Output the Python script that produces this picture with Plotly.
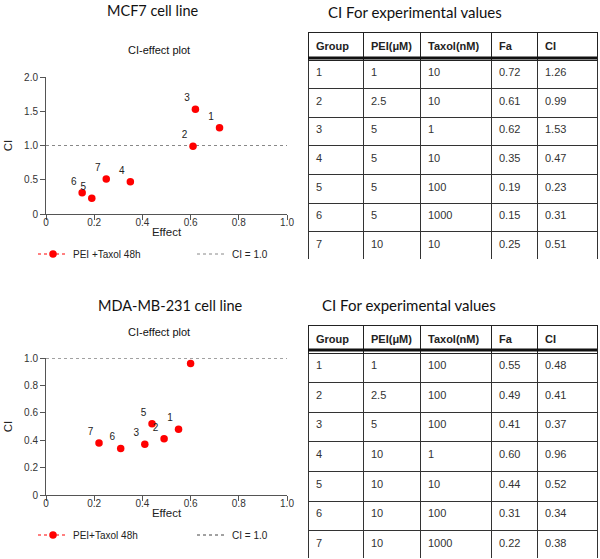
import plotly.graph_objects as go

W, H = 600, 559

groups = [1, 2, 3, 4, 5, 6, 7]
header = ["Group", "PEI(μM)", "Taxol(nM)", "Fa", "CI"]

mcf7_pei = ["1", "2.5", "5", "5", "5", "5", "10"]
mcf7_taxol = ["10", "10", "1", "10", "100", "1000", "10"]
mcf7_fa = [0.72, 0.61, 0.62, 0.35, 0.19, 0.15, 0.25]
mcf7_ci = [1.26, 0.99, 1.53, 0.47, 0.23, 0.31, 0.51]

mda_pei = ["1", "2.5", "5", "10", "10", "10", "10"]
mda_taxol = ["100", "100", "100", "1", "10", "100", "1000"]
mda_fa = [0.55, 0.49, 0.41, 0.60, 0.44, 0.31, 0.22]
mda_ci = [0.48, 0.41, 0.37, 0.96, 0.52, 0.34, 0.38]

x_ticks = [0, 0.2, 0.4, 0.6, 0.8, 1.0]
x_ticktext = ["0", "0.2", "0.4", "0.6", "0.8", "1.0"]
y1_ticks = [0, 0.5, 1.0, 1.5, 2.0]
y1_ticktext = ["0", "0.5", "1.0", "1.5", "2.0"]
y2_ticks = [0, 0.2, 0.4, 0.6, 0.8, 1.0]
y2_ticktext = ["0", "0.2", "0.4", "0.6", "0.8", "1.0"]
ci_ref = 1.0


def px(x):
    return x / W


def py(y):
    return min(1.0, max(0.0, 1 - y / H))


fig = go.Figure()

# ---------- scatter plots ----------
def add_plot(fa, ci, xa, ya, legend, leg_name, ci_color):
    fig.add_trace(go.Scatter(
        x=[0, 1.0], y=[ci_ref, ci_ref], mode="lines",
        line=dict(color=ci_color, width=1, dash="dot"),
        name="CI = 1.0", xaxis=xa, yaxis=ya, legend=legend, legendrank=2,
        hoverinfo="skip"))
    fig.add_trace(go.Scatter(
        x=fa, y=ci, mode="markers+text", text=[str(g) for g in groups],
        textposition="top left",
        textfont=dict(family="Arial", size=10, color="#222"),
        marker=dict(color="#ff0000", size=7.5),
        showlegend=False, xaxis=xa, yaxis=ya))
    fig.add_trace(go.Scatter(
        x=[None], y=[None], mode="lines+markers",
        marker=dict(color="#ff0000", size=7.5),
        line=dict(color="#ff0000", width=1, dash="dot"),
        name=leg_name, xaxis=xa, yaxis=ya, legend=legend, legendrank=1))


add_plot(mcf7_fa, mcf7_ci, "x", "y", "legend", "PEI +Taxol 48h", "#888888")
add_plot(mda_fa, mda_ci, "x2", "y2", "legend2", "PEI+Taxol 48h", "#444444")

axis_common = dict(
    showline=True, linecolor="#555", linewidth=1, showgrid=False,
    zeroline=False, ticks="outside", ticklen=5, tickcolor="#555",
    automargin=False,
    tickfont=dict(family="Arial", size=10, color="#333"))

title_font = dict(family="Arial", size=11.5, color="#222")
xdom = [px(46), px(287)]
fig.update_layout(
    xaxis=dict(domain=xdom, range=[0, 1.0], anchor="y", tickvals=x_ticks,
               ticktext=x_ticktext, ticklabelstandoff=-6,
               title=dict(text="Effect", standoff=0, font=title_font),
               **axis_common),
    yaxis=dict(domain=[py(214), py(77)], range=[0, 2.0], anchor="x",
               tickvals=y1_ticks, ticktext=y1_ticktext,
               title=dict(text="CI", standoff=9, font=title_font),
               **axis_common),
    xaxis2=dict(domain=xdom, range=[0, 1.0], anchor="y2", tickvals=x_ticks,
                ticktext=x_ticktext, ticklabelstandoff=-6,
                title=dict(text="Effect", standoff=0, font=title_font),
                **axis_common),
    yaxis2=dict(domain=[py(495), py(358)], range=[0, 1.0], anchor="x2",
                tickvals=y2_ticks, ticktext=y2_ticktext,
                title=dict(text="CI", standoff=9, font=title_font),
                **axis_common),
)

leg_common = dict(orientation="h", xanchor="left", yanchor="middle",
                  font=dict(family="Arial", size=10, color="#222"),
                  bgcolor="rgba(0,0,0,0)", entrywidth=114, itemwidth=30,
                  traceorder="normal")
fig.update_layout(
    legend=dict(x=px(33), y=py(254), **leg_common),
    legend2=dict(x=px(33), y=py(535), **leg_common),
)

# ---------- tables ----------
col_w = [55, 57, 71, 46, 60]


def add_table(pei, taxol, fa, ci, top, bottom, hh, rh):
    fig.add_trace(go.Table(
        domain=dict(x=[px(308), px(597)], y=[py(bottom + 2), py(top)]),
        columnwidth=col_w,
        header=dict(values=["<b>%s</b>" % h for h in header],
                    align="left", height=hh,
                    line=dict(color="#222", width=1),
                    fill=dict(color="white"),
                    font=dict(family="Arial", size=11, color="#222")),
        cells=dict(values=[[str(g) for g in groups], pei, taxol,
                           ["%.2f" % v for v in fa], ["%.2f" % v for v in ci]],
                   align="left", height=rh,
                   line=dict(color="#333", width=1),
                   fill=dict(color="white"),
                   font=dict(family="Arial", size=11, color="#333"))))
    fig.add_shape(type="line", xref="paper", yref="paper",
                  x0=px(308), x1=px(597), y0=py(top + hh), y1=py(top + hh),
                  line=dict(color="#111", width=3))


add_table(mcf7_pei, mcf7_taxol, mcf7_fa, mcf7_ci, 32, 258, 26, 28.6)
add_table(mda_pei, mda_taxol, mda_fa, mda_ci, 325, 557, 25, 29.6)

# ---------- titles ----------
def ann(text, x, y, size, family, xanchor="center"):
    fig.add_annotation(text=text, x=px(x), y=py(y), xref="paper", yref="paper",
                       showarrow=False, xanchor=xanchor, yanchor="middle",
                       font=dict(family=family, size=size, color="#111"))


ann("MCF7 cell line", 152, 10, 14.5, "Lato")
ann("CI-effect plot", 159, 50, 11, "Arial")
ann("MDA-MB-231 cell line", 170, 305, 14.5, "Lato")
ann("CI-effect plot", 159, 332, 11, "Arial")
ann("CI For experimental values", 326, 12, 15, "Lato", "left")
ann("CI For experimental values", 320, 305, 15, "Lato", "left")

fig.update_layout(width=W, height=H,
                  margin=dict(l=0, r=0, t=0, b=0, autoexpand=False),
                  paper_bgcolor="white", plot_bgcolor="white",
                  showlegend=True)

fig.write_html("out.html", config={"displayModeBar": False},
               post_script="document.body.style.margin='0px';")
